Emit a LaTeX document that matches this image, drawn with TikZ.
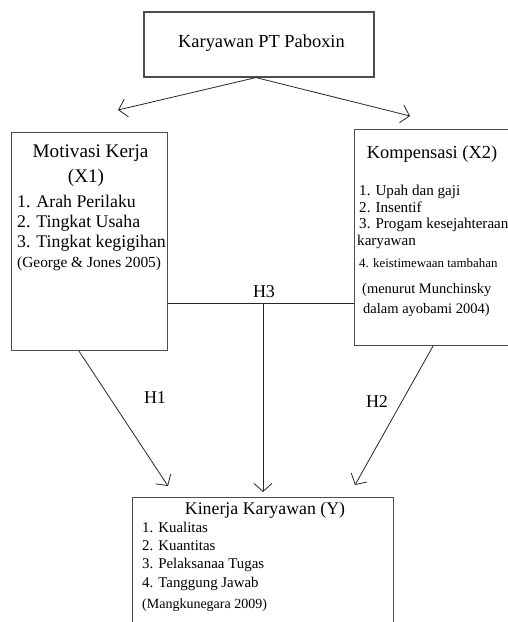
\documentclass[tikz,border=0pt]{standalone}
\usepackage{fontspec}
\setmainfont{Liberation Serif}
\usetikzlibrary{calc, positioning}
\usetikzlibrary{arrows.meta}

\newcommand{\fsz}[1]{\fontsize{#1}{#1}\selectfont}

\begin{document}
\begin{tikzpicture}[x=1pt, y=-1pt,
  kotak/.style={draw=black!70, line width=1.1pt, rectangle, inner sep=0pt},
  garis/.style={draw=black!85, line width=0.8pt},
  panah/.style={garis, -{Straight Barb[length=8pt, width=18pt]}},
  teks/.style={anchor=base, inner sep=0pt, text=black},
  kiri/.style={anchor=base west, inner sep=0pt, text=black}]

\useasboundingbox (0,0) rectangle (508,622);
\clip (0,0) rectangle (508,622);

% kotak
\node[kotak, minimum width=230pt, minimum height=65pt] (karyawan) at (259,44.5) {};
\node[kotak, anchor=north west, minimum width=156pt, minimum height=218pt] (motivasi) at (11,132) {};
\node[kotak, anchor=north west, minimum width=170pt, minimum height=216pt] (kompensasi) at (354,129) {};
\node[kotak, anchor=north west, minimum width=261pt, minimum height=140pt] (kinerja) at (132,497) {};

% teks kotak atas
\node[teks, font=\fsz{18.4}] (judul) at (261.5,47) {Karyawan PT Paboxin};

% teks motivasi
\node[teks, font=\fsz{19.2}] (motjudul) at (90.5,157) {Motivasi Kerja};
\node[teks, font=\fsz{19.2}] (motx) at (86,182) {(X1)};
\node[kiri, font=\fsz{17.8}] (mot1) at (17,207) {1. Arah Perilaku};
\node[kiri, font=\fsz{17.8}] (mot2) at (17,227) {2. Tingkat Usaha};
\node[kiri, font=\fsz{17.8}] (mot3) at (17,247) {3. Tingkat kegigihan};
\node[kiri, font=\fsz{15.4}] (motsumber) at (17,267) {(George \& Jones 2005)};

% teks kompensasi
\node[teks, font=\fsz{18.4}] (komjudul) at (432,158) {Kompensasi (X2)};
\node[kiri, font=\fsz{15.1}] (kom1) at (359,195) {1. Upah dan gaji};
\node[kiri, font=\fsz{15.1}] (kom2) at (359,212) {2. Insentif};
\node[kiri, font=\fsz{15.1}] (kom3) at (359,228) {3. Progam kesejahteraan};
\node[kiri, font=\fsz{15.1}] (kom3b) at (357,245) {karyawan};
\node[kiri, font=\fsz{12.9}] (kom4) at (359,267) {4. keistimewaan tambahan};
\node[kiri, font=\fsz{14.5}] (komsumber) at (362,293) {(menurut Munchinsky};
\node[kiri, font=\fsz{14.5}] (komsumberb) at (363,313) {dalam ayobami 2004)};

% teks kinerja
\node[teks, font=\fsz{17.8}] (kinjudul) at (265,514) {Kinerja Karyawan (Y)};
\node[kiri, font=\fsz{14.9}] (kin1) at (142,532) {1. Kualitas};
\node[kiri, font=\fsz{14.9}] (kin2) at (142,550) {2. Kuantitas};
\node[kiri, font=\fsz{14.9}] (kin3) at (142,568) {3. Pelaksanaa Tugas};
\node[kiri, font=\fsz{14.9}] (kin4) at (142,587) {4. Tanggung Jawab};
\node[kiri, font=\fsz{14}] (kinsumber) at (142,608) {(Mangkunegara 2009)};

% garis
\coordinate (ujungkiri) at (118,110);
\coordinate (ujungkanan) at (410,116);
\coordinate (h3) at (263,303);
\coordinate (t1) at (168,486);
\coordinate (t2) at (355,485);

\draw[panah] ($(karyawan.south)+(-3,0)$) -- (ujungkiri);
\draw[panah] ($(karyawan.south)+(-3,0)$) -- (ujungkanan);
\draw[garis] (motivasi.east |- h3) -- (kompensasi.west |- h3);
\draw[panah] (h3) -- ($(kinerja.north -| h3)+(0,-5)$);
\draw[panah] ($(motivasi.south west)+(68,0)$) -- (t1);
\draw[panah] ($(kompensasi.south west)+(79,0)$) -- (t2);

\node[teks, font=\fsz{18}] (labelh1) at (155,403) {H1};
\node[teks, font=\fsz{18}] (labelh2) at (377,407) {H2};
\node[teks, font=\fsz{18}] (labelh3) at (264,297) {H3};
\end{tikzpicture}
\end{document}
